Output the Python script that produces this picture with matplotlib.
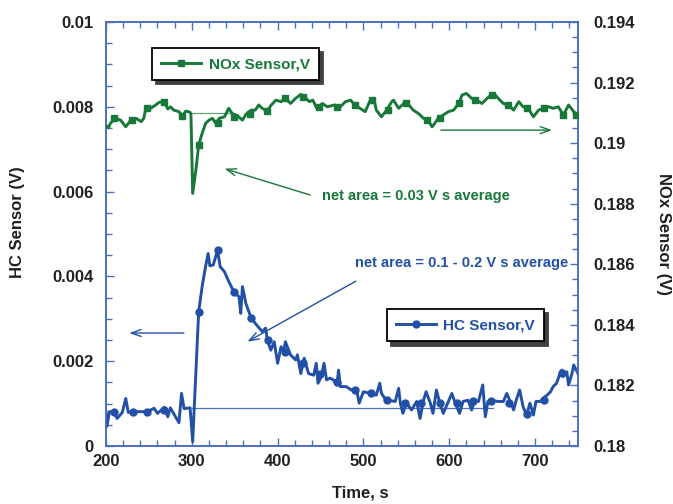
import matplotlib
matplotlib.use('Agg')
import matplotlib.pyplot as plt
from matplotlib.lines import Line2D
from matplotlib.ticker import MultipleLocator

plt.rcParams['font.family'] = ['Liberation Sans', 'DejaVu Sans']
plt.rcParams['font.weight'] = 'bold'

# HC sensor (left axis)
hc_t = [200, 201, 204, 209, 213, 219, 223, 226, 231, 238, 248, 256, 260, 268, 272,
        275, 285, 288, 291, 298, 301, 308, 312, 316, 319, 321, 325, 330, 333, 338,
        343, 349, 355, 357, 359, 363, 369, 374, 382, 386, 388, 392, 396, 400, 404,
        407, 409, 415, 421, 423, 427, 431, 436, 442, 445, 447, 451, 454, 457, 461,
        465, 469, 471, 473, 480, 486, 492, 495, 500, 508, 515, 519, 521, 525, 529,
        537, 541, 543, 546, 550, 556, 562, 566, 570, 573, 578, 581, 585, 589, 593,
        599, 603, 607, 612, 616, 622, 626, 630, 634, 639, 642, 645, 651, 657, 663,
        667, 671, 675, 678, 682, 686, 690, 694, 698, 701, 706, 709, 714, 718, 721,
        725, 729, 731, 733, 737, 739, 743, 745, 750]
hc_v = [0.00081, 0.00046, 0.00081, 0.00081, 0.00065, 0.00079, 0.00112, 0.00079, 0.00081, 0.00081,
        0.00081, 0.00089, 0.00077, 0.00091, 0.00069, 0.00090, 0.00055, 0.00124, 0.00088, 0.00090,
        0.00010, 0.00317, 0.00376, 0.00423, 0.00454, 0.00425, 0.00427, 0.00462, 0.00423, 0.00411,
        0.00388, 0.00364, 0.00352, 0.00313, 0.00376, 0.00336, 0.00303, 0.00289, 0.00270, 0.00278,
        0.00250, 0.00226, 0.00246, 0.00195, 0.00234, 0.00222, 0.00246, 0.00215, 0.00203, 0.00215,
        0.00171, 0.00207, 0.00171, 0.00167, 0.00195, 0.00148, 0.00164, 0.00195, 0.00156, 0.00160,
        0.00156, 0.00144, 0.00179, 0.00140, 0.00140, 0.00132, 0.00132, 0.00101, 0.00128, 0.00124,
        0.00120, 0.00148, 0.00124, 0.00112, 0.00108, 0.00105, 0.00136, 0.00101, 0.00077, 0.00102,
        0.00085, 0.00105, 0.00065, 0.00108, 0.00128, 0.00101, 0.00077, 0.00132, 0.00101, 0.00077,
        0.00105, 0.00124, 0.00101, 0.00077, 0.00105, 0.00108, 0.00085, 0.00108, 0.00105, 0.00144,
        0.00069, 0.00105, 0.00107, 0.00105, 0.00105, 0.00124, 0.00105, 0.00085, 0.00108, 0.00132,
        0.00093, 0.00073, 0.00101, 0.00073, 0.00105, 0.00105, 0.00112, 0.00120, 0.00128, 0.00140,
        0.00148, 0.00171, 0.00179, 0.00164, 0.00175, 0.00144, 0.00171, 0.00191, 0.00171]
hc_mk_t = [209, 231, 248, 268, 308, 330, 349, 369, 389, 408, 430, 449, 469, 490,
           509, 528, 548, 567, 589, 609, 628, 649, 670, 690, 710, 731]
hc_mk_v = [0.00081, 0.00081, 0.00081, 0.00085, 0.00317, 0.00462, 0.00364, 0.00303, 0.00250,
           0.00222, 0.00195, 0.00170, 0.00150, 0.00132, 0.00124, 0.00108, 0.00102, 0.00101,
           0.00101, 0.00101, 0.00105, 0.00107, 0.00101, 0.00075, 0.00108, 0.00171]

# NOx sensor (right axis)
nox_t = [200, 203, 205, 211, 217, 223, 229, 235, 241, 244, 246, 252, 258, 262, 268,
         272, 275, 279, 285, 289, 293, 298, 299, 301, 305, 308, 312, 316, 320, 324,
         328, 332, 338, 343, 347, 353, 359, 363, 369, 374, 378, 382, 388, 392, 398,
         404, 409, 415, 421, 427, 433, 437, 441, 446, 452, 458, 466, 473, 479, 485,
         490, 496, 502, 508, 512, 515, 521, 527, 533, 535, 541, 547, 553, 558, 564,
         570, 575, 580, 583, 587, 593, 599, 605, 611, 615, 620, 626, 632, 638, 646,
         652, 657, 663, 669, 675, 681, 686, 692, 698, 704, 710, 716, 721, 727, 733,
         739, 745, 750]
nox_v = [0.19058, 0.19051, 0.19065, 0.19082, 0.19076, 0.19054, 0.19076, 0.19082, 0.19071, 0.19082,
         0.19109, 0.19115, 0.19126, 0.19135, 0.19137, 0.19113, 0.19120, 0.19109, 0.19104, 0.19090,
         0.19106, 0.19102, 0.19095, 0.18834, 0.18917, 0.18994, 0.19032, 0.19065, 0.19076, 0.19082,
         0.19065, 0.19082, 0.19087, 0.19115, 0.19098, 0.19091, 0.19076, 0.19095, 0.19109, 0.19109,
         0.19126, 0.19115, 0.19106, 0.19124, 0.19142, 0.19137, 0.19148, 0.19131, 0.19148, 0.19161,
         0.19148, 0.19137, 0.19142, 0.19113, 0.19131, 0.19120, 0.19126, 0.19120, 0.19137, 0.19142,
         0.19126, 0.19115, 0.19104, 0.19142, 0.19148, 0.19109, 0.19087, 0.19109, 0.19137, 0.19142,
         0.19115, 0.19131, 0.19126, 0.19109, 0.19098, 0.19082, 0.19076, 0.19054, 0.19065, 0.19082,
         0.19093, 0.19104, 0.19109, 0.19131, 0.19159, 0.19164, 0.19148, 0.19142, 0.19131, 0.19153,
         0.19164, 0.19148, 0.19131, 0.19126, 0.19109, 0.19137, 0.19120, 0.19115, 0.19087, 0.19109,
         0.19115, 0.19120, 0.19115, 0.19120, 0.19093, 0.19126, 0.19104, 0.19093]
nox_mk_t = [209, 230, 248, 268, 289, 308, 330, 349, 368, 388, 409, 429, 448, 469, 490,
            510, 529, 549, 574, 589, 611, 630, 650, 669, 690, 710, 733, 748]
nox_mk_v = [0.19082, 0.19076, 0.19115, 0.19137, 0.19090, 0.18994, 0.19065, 0.19087, 0.19095,
            0.19106, 0.19148, 0.19153, 0.19120, 0.19120, 0.19126, 0.19142, 0.19109, 0.19131,
            0.19076, 0.19082, 0.19131, 0.19142, 0.19159, 0.19126, 0.19115, 0.19115, 0.19093,
            0.19093]

hc_base = 0.0009
nox_base = 0.191

hc_ticks = [0, 0.002, 0.004, 0.006, 0.008, 0.01]
hc_labels = ['0', '0.002', '0.004', '0.006', '0.008', '0.01']
nox_ticks = [0.18, 0.182, 0.184, 0.186, 0.188, 0.19, 0.192, 0.194]
nox_labels = ['0.18', '0.182', '0.184', '0.186', '0.188', '0.19', '0.192', '0.194']
x_ticks = [200, 300, 400, 500, 600, 700]

BLUE = '#2150a6'
GREEN = '#17783a'
AXC = '#4a6fbf'
TXT = '#231f20'

fig = plt.figure(figsize=(6.73, 5.04), dpi=100)
ax1 = fig.add_axes([106 / 673, 58 / 504, 472 / 673, 424 / 504])
ax2 = ax1.twinx()

# HC curve
ax1.plot([300, 651], [hc_base, hc_base], color='#4f72c2', lw=0.9, zorder=2)
ax1.plot(hc_t, hc_v, color=BLUE, lw=2.1, zorder=3)
ax1.plot(hc_mk_t, hc_mk_v, 'o', color=BLUE, ms=5, zorder=4)

# NOx curve
ax2.plot([298, 345], [nox_base, nox_base], color='#5ea57a', lw=0.9, zorder=2)
ax2.plot(nox_t, nox_v, color=GREEN, lw=2.1, zorder=3)
ax2.plot(nox_mk_t, nox_mk_v, 's', color=GREEN, ms=4.5, zorder=4)

ax1.set_xlim(200, 750)
ax1.set_ylim(0, 0.01)
ax2.set_ylim(0.18, 0.194)

ax1.set_xticks(x_ticks)
ax1.xaxis.set_minor_locator(MultipleLocator(20))
ax1.set_yticks(hc_ticks, hc_labels)
ax1.yaxis.set_minor_locator(MultipleLocator(0.0005))
ax2.set_yticks(nox_ticks, nox_labels)
ax2.yaxis.set_minor_locator(MultipleLocator(0.0005))

ax1.tick_params(axis='both', which='both', direction='in', color=AXC,
                labelcolor=TXT, labelsize=12, width=1)
ax1.tick_params(axis='x', which='both', top=True, pad=6)
ax1.tick_params(axis='y', which='both', right=False, pad=9)
ax1.tick_params(which='major', length=6)
ax1.tick_params(which='minor', length=4)
ax2.tick_params(axis='y', which='both', direction='in', color=AXC,
                labelcolor=TXT, labelsize=12, width=1, pad=11)
ax2.tick_params(which='major', length=6)
ax2.tick_params(which='minor', length=4)
for ax in (ax1, ax2):
    for s in ax.spines.values():
        s.set_color(AXC)
        s.set_linewidth(1.2)

fig.text(18 / 673, 1 - 222 / 504, 'HC Sensor (V)', rotation=90, ha='center', va='center',
         fontsize=12, color=TXT)
fig.text(664 / 673, 1 - 234 / 504, 'NOx Sensor (V)', rotation=270, ha='center', va='center',
         fontsize=12, color=TXT)
fig.text(360 / 673, 1 - 493 / 504, 'Time, s', ha='center', va='center',
         fontsize=12, color=TXT)

# annotations
ax1.annotate('', xy=(335, 0.00656), xytext=(441, 0.0059),
             arrowprops=dict(arrowstyle='->,head_length=0.7,head_width=0.25', color=GREEN, lw=1))
ax1.text(452, 0.0059, 'net area = 0.03 V s average', color=GREEN, fontsize=10.5,
         va='center', ha='left')
ax1.annotate('', xy=(723, 0.00745), xytext=(587, 0.00745),
             arrowprops=dict(arrowstyle='->,head_length=0.7,head_width=0.25', color=GREEN, lw=1))
ax1.annotate('', xy=(224, 0.002665), xytext=(294, 0.002665),
             arrowprops=dict(arrowstyle='->,head_length=0.7,head_width=0.25', color=BLUE, lw=1))
ax1.annotate('', xy=(362, 0.00243), xytext=(494, 0.00392),
             arrowprops=dict(arrowstyle='->,head_length=0.7,head_width=0.25', color=BLUE, lw=1))
ax1.text(490, 0.00432, 'net area = 0.1 - 0.2 V s average', color=BLUE, fontsize=10.5,
         va='center', ha='left')

# legends
shadow = {'ox': 3, 'oy': -3, 'facecolor': '0.25', 'edgecolor': '0.25', 'alpha': 1}
h_nox = Line2D([], [], color=GREEN, lw=2.1, marker='s', ms=4.5)
h_hc = Line2D([], [], color=BLUE, lw=2.1, marker='o', ms=5)
leg2 = ax2.legend([h_nox], ['NOx Sensor,V'], loc='upper left', bbox_to_anchor=(0.0975, 0.9387),
                  borderaxespad=0, fancybox=False, shadow=shadow, framealpha=1,
                  handlelength=2.6, handletextpad=0.5, borderpad=0.6, fontsize=11)
for t in leg2.get_texts():
    t.set_color(GREEN)
leg2.get_frame().set_edgecolor('black')
leg2.get_frame().set_linewidth(1.3)
leg1 = ax1.legend([h_hc], ['HC Sensor,V'], loc='upper left', bbox_to_anchor=(0.595, 0.323),
                  borderaxespad=0, fancybox=False, shadow=shadow, framealpha=1,
                  handlelength=2.6, handletextpad=0.5, borderpad=0.6, fontsize=11)
for t in leg1.get_texts():
    t.set_color(BLUE)
leg1.get_frame().set_edgecolor('black')
leg1.get_frame().set_linewidth(1.3)

fig.savefig('out.png', dpi=100)
